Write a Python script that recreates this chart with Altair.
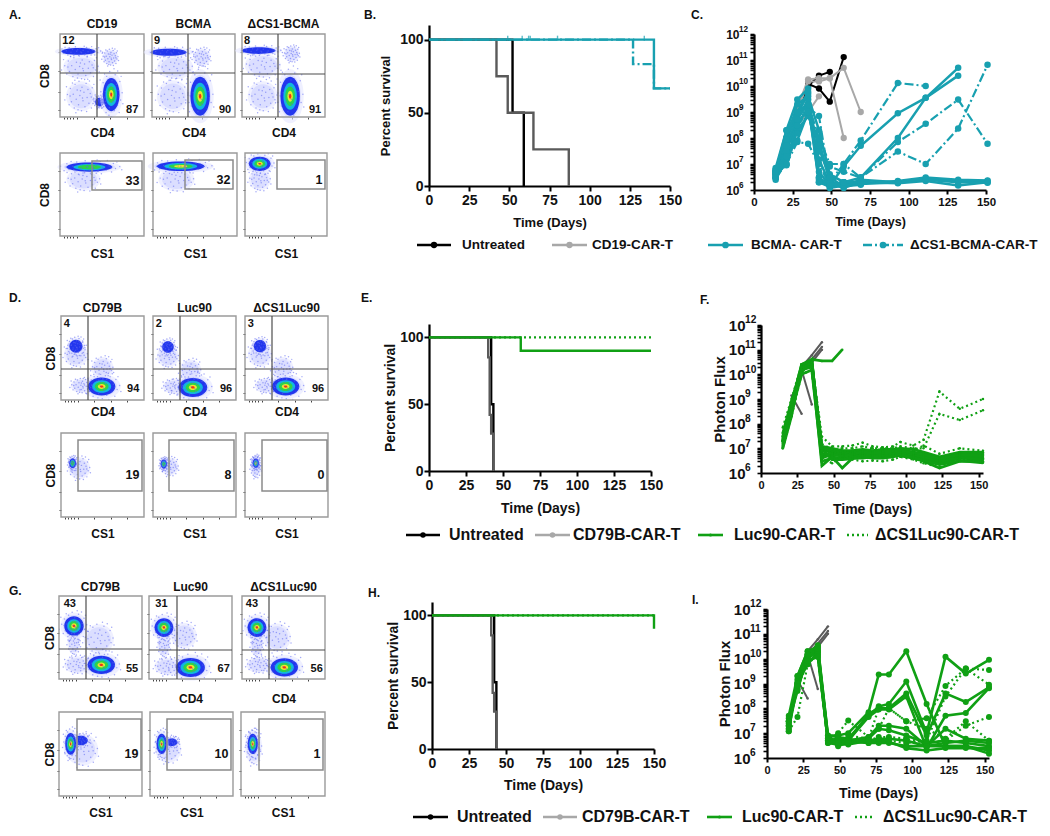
import altair as alt
import pandas as pd

N = None
W, H = 1034, 820
FONT = "Liberation Sans"
TEAL, GREEN, GRAYL, GRAYD = "#18a0b0", "#10a014", "#a8a8a8", "#5a5a5a"
DASHDOT, DOTTED = [9, 3, 2, 3], [2, 3]

# ---------- survival data ----------
B_UNTREATED = ([0, 52, 59], [100, 50, 0])
B_CD19 = ([0, 42, 49, 65, 87], [100, 75, 50, 25, 0])
B_BCMA = ([0, 140, 150], [100, 66.7, 66.7])
B_DCS1 = ([0, 127, 140, 150], [100, 83.3, 66.7, 66.7])
B_CENSOR = [49, 58, 62, 63, 80, 134]
E_UNTREATED = ([0, 42, 43.5], [100, 50, 0])
E_CD79B = ([0, 40, 41, 42, 43.5], [100, 85, 42, 28, 0])
E_LUC = ([0, 62, 150], [100, 90, 90])
E_DCS1 = ([0, 150], [100, 100])
H_UNTREATED = ([0, 42, 43.5], [100, 50, 0])
H_CD79B = ([0, 40, 41, 42, 43.5], [100, 85, 42, 28, 0])
H_LUC = ([0, 150, 150], [100, 100, 90])
H_DCS1 = ([0, 150], [100, 100])

# ---------- flux data ----------
C_T = [14, 21, 28, 35, 42, 49, 58, 69, 93, 111, 132, 151]
C_UNTREATED = [
    [5e6, 1e8, 1e9, 1.2e10, 8e9, 2.5e9, 1.3e11, N, N, N, N, N],
    [4e6, 8e7, 8e8, 1e10, 2.5e10, 3.5e10, N, N, N, N, N, N],
]
C_CD19 = [
    [4e6, 1e8, 1.5e9, 1.8e10, 2e10, 2e10, 5e10, 1e9, N, N, N, N],
    [3e6, 6e7, 1e9, 1.5e10, 1.5e10, 2e10, 1e8, N, N, N, N, N],
    [3e6, 4e7, 3e8, 1e9, 4e9, N, N, N, N, N, N, N],
]
C_BCMA = [
    [5e6, 1e8, 8e8, 5e9, 3e6, 1.5e6, 8e6, 5e7, 9e8, 3.5e9, 5e10, N],
    [3e6, 3e7, 5e8, 3e9, 2e6, 1.5e6, 2e6, 3e6, 1e8, 3.5e9, 2.5e10, N],
    [7e6, 2e8, 3e9, 8e9, 3e6, 1.2e6, 1.5e6, 2.5e6, 2e6, 2.7e6, 2.2e6, 2.2e6],
    [4e6, 8e7, 1e9, 6e9, 2.5e6, 2e6, 1.5e6, 2e6, 1.8e6, 2.2e6, 1.5e6, 2e6],
    [3e6, 5e7, 6e8, 2e9, 2e6, 1.3e6, 1.8e6, 1.8e6, 2.2e6, 3e6, 2.5e6, 2.3e6],
    [2.5e6, 1.5e7, 3e8, 1.5e9, 5e6, 1.5e6, 1.5e6, 1.7e6, 2e6, 2.5e6, 2e6, 1.9e6],
    [3e6, 2e7, 8e7, 1e9, 1.5e7, 1.8e6, 1.2e6, 2e6, N, N, N, N],
    [4e6, 1e7, 2e8, 7e8, 8e7, 2e6, 1.6e6, 2.2e6, N, N, N, N],
    [6e6, 9e7, 2e9, 4e9, 2e8, 4e6, 2e6, 1.8e6, N, N, N, N],
    [5e6, 2e8, 1e9, 2e9, 4e7, 3e6, 1.4e6, 1.6e6, N, N, N, N],
]
C_DCS1 = [
    [5e6, 3e7, 5e8, 1.5e9, 7e8, 2e6, 1e7, 3e6, 3e7, 1e7, 2.3e8, 6.5e10],
    [4e6, 9e6, 1.5e8, 1e9, 3e7, 8e6, 5e6, 3e6, 7e7, 3.5e8, 3e9, 6e7],
    [6e6, 5e7, 3e8, 2e9, 1e8, 1e7, 1e7, 8e7, 1.3e10, 1e10, N, N],
    [3e6, 1e7, 7e7, 6e7, 1e7, 1.5e6, 2e6, 2e6, N, N, N, N],
    [5e6, 2e7, 3e8, 1e9, 5e7, 3e6, 2e6, 2e6, 2e6, N, N, N],
]

F_T = [15, 21, 28, 35, 42, 49, 56, 63, 70, 77, 84, 91, 96, 105, 112, 123, 137, 153]
F_LUC = [
    [1e7, 2e8, 2e10, 3e10, 1.2e7, 1e7, 8e6, 8e6, 9e6, 8e6, 9e6, 9e6, 1e7, 9e6, 7e6, 4.5e6, 7e6, 7e6],
    [2e7, 4e8, 1.5e10, 2e10, 8e6, 7e6, 7e6, 6e6, 7e6, 7e6, 7e6, 7e6, 8e6, 6e6, 5e6, 3.5e6, 5e6, 5.5e6],
    [3e7, 6e8, 2.5e10, 3.5e10, 5e6, 5e6, 5.5e6, 5e6, 6e6, 5.5e6, 6e6, 6e6, 6.5e6, 5e6, 4e6, 3e6, 4.5e6, 4.5e6],
    [1.5e7, 3e8, 1e10, 1.5e10, 3e6, 4e6, 4e6, 4.5e6, 5e6, 5e6, 5e6, 5.5e6, 6e6, 4.5e6, 3.5e6, 2.5e6, 4e6, 4e6],
    [4e7, 8e8, 2e10, 2.5e10, 2e6, 4.5e6, 1.6e6, 4e6, 4e6, 4.5e6, 4.5e6, 5e6, 5e6, 4e6, 3e6, 1.6e6, 3e6, 3e6],
    [2e7, 5e8, 1.2e10, 4e10, 4e6, 6e6, 6e6, 7e6, 8e6, 7e6, 8e6, 8e6, 9e6, 7e6, 6e6, 4e6, 6e6, 6e6],
    [1.2e7, 3e8, 2e10, 2e10, 1e7, 8e6, 7e6, 6.5e6, 6.5e6, 6.5e6, 6.5e6, 6.5e6, 7e6, 5.5e6, 4.5e6, 3.2e6, 4e6, 3.5e6],
    [1.8e7, 7e8, 1.8e10, 2.8e10, 6e6, 5.5e6, 4.8e6, 5.5e6, 7.5e6, 6e6, 7.5e6, 7.5e6, 8e6, 6.5e6, 5.5e6, 3.8e6, 5.5e6, 5e6],
    [2.5e7, 4.5e8, 1.3e10, 3.2e10, 9e6, 3.5e6, 3.5e6, 3.8e6, 4.5e6, 4e6, 4e6, 4.5e6, 5.5e6, 4.2e6, 3.2e6, 2.2e6, 3.2e6, 2.6e6],
    [2e7, 5e8, 2.5e10, 4e10, 3.5e10, 3.5e10, 1e11, N, N, N, N, N, N, N, N, N, N, N],
]
F_DCS1 = [
    [7e7, 1e9, 2.5e10, 3e10, 3e7, 1.2e7, 1.2e7, 1.3e7, 1.7e7, 1.2e7, 1.1e7, 1.2e7, 1.8e7, 1.3e7, 2.2e7, 2e9, 4e8, 1e9],
    [3e7, 5e8, 2e10, 2e10, 1.5e7, 9e6, 1e7, 1e7, 1.2e7, 1e7, 1e7, 1e7, 1.2e7, 1e7, 1e7, 2.5e8, 1.4e8, 3.5e8],
    [1e7, 2e8, 1e10, 1.5e10, 4e6, 2.5e6, 5e6, 3.5e6, 3e6, 3.2e6, 3e6, 3.5e6, 4.5e6, 3.5e6, 2.5e6, 1.7e6, 3.5e6, 2.8e6],
    [2e7, 4e8, 1.5e10, 2.5e10, 8e6, 6e6, 8e6, 6e6, 5e6, 5e6, 5e6, 6e6, 1e7, 8e6, 1.3e7, 6e6, 1e7, 8e6],
]
F_CD79B_T = [21, 28, 35, 42]
F_CD79B = [
    [N, 2e10, 6e10, 2e11],
    [N, 1.5e10, 4e10, 1.3e11],
    [N, 2e10, 3e10, 1e11],
    [1.4e9, 2.5e8, N, N],
    [N, 1.5e10, 6e8, N],
]

I_T = [15, 21, 28, 35, 42, 49, 56, 70, 77, 84, 96, 110, 123, 137, 153]
I_LUC = [
    [1.2e7, 2e9, 2e10, 3e10, 8e6, 8e6, 1e7, 7e7, 2.3e9, 2.3e9, 2e10, 1.5e8, 3e6, 3e6, 2e6],
    [2e7, 1.5e9, 1.5e10, 2e10, 6e6, 5e6, 6e6, 5e7, 1.2e8, 1.5e8, 1.2e9, 1e7, 1.2e10, 2.5e9, 9e9],
    [3e7, 1e9, 1e10, 3e10, 5e6, 6e6, 5e6, 6e7, 1e8, 1e8, 4e8, 8e6, 4e8, 1.8e8, 7e8],
    [5e7, 2e9, 2e10, 1.5e10, 4.5e6, 4e6, 5e6, 4.5e7, 9e7, 9e7, 3e8, 2.5e6, 5e7, 6.5e7, 6.5e8],
    [1.5e7, 8e8, 1e10, 2e10, 7e6, 4e6, 5e6, 7e6, 2e7, 2e7, 1.5e7, 3e6, 1.5e7, 6e6, 5e6],
    [2.5e7, 1.2e9, 8e9, 1.2e10, 5e6, 5e6, 4e6, 6e6, 1.5e7, 1.3e7, 8e6, 4e6, 5e6, 4e6, 3e6],
    [4e7, 6e8, 1.2e10, 2.5e10, 4e6, 3.5e6, 3.5e6, 5e6, 6e6, 6e6, 5e6, 3e6, 3e6, 3e6, 1.5e6],
    [2e7, 1e9, 6e9, 1.8e10, 6e6, 3e6, 4.5e6, 4e6, 5e6, 4.5e6, 2.5e6, 2e6, 2.5e6, 2.5e6, 2.5e6],
    [3e7, 5e8, 1.5e10, 3.5e10, 8e6, 7e6, 6e6, 4e6, 4e6, 4e6, 3e6, 3e6, 4e6, 5e6, 4e6],
]
I_DCS1 = [
    [1.2e7, 4.5e7, 6e9, 1.5e10, 5e6, 1e7, 3.2e7, 7e6, 1.5e7, 1e8, 3e7, 4e7, 8e8, 4e9, 3.5e9],
    [2e7, 6e8, 1e10, 2e10, 6e6, 5e6, 8e6, 6e6, 1e8, 1e8, 3e7, 1.5e7, 6e6, 3e7, 5e6],
    [3e7, 1e9, 1.5e10, 2.5e10, 5e6, 6e6, 5e6, 5e6, 7e6, 7e6, 6e6, 4e6, 5e6, 2e7, 4.5e7],
    [1.5e7, 8e8, 8e9, 1.2e10, 4e6, 4e6, 4e6, 5e6, 6e6, 5e6, 4e6, 5e6, 3e8, 4e9, 9e8],
]
I_CD79B = F_CD79B
LOG_EXPONENTS = [(1e6, "6"), (1e7, "7"), (1e8, "8"), (1e9, "9"), (1e10, "10"), (1e11, "11"), (1e12, "12")]

# ---------- flow-cytometry panels: clouds are (shape, x%, y%, extent, depth) ----------
TITLES_1 = ["CD19", "BCMA", "\u0394CS1-BCMA"]
TITLES_2 = ["CD79B", "Luc90", "\u0394CS1Luc90"]
A_TOP_LABELS = [[("12", 10, 91), ("87", 86, 8)], [("9", 6, 91), ("90", 88, 8)], [("8", 6, 91), ("91", 88, 8)]]
A_BOT_LABELS = [["33"], ["32"], ["1"]]
D_TOP_LABELS = [[("4", 7, 90), ("94", 87, 13)], [("2", 7, 90), ("96", 88, 13)], [("3", 7, 90), ("96", 88, 13)]]
D_BOT_LABELS = [["19"], ["8"], ["0"]]
G_TOP_LABELS = [[("43", 13, 90), ("55", 88, 12)], [("31", 15, 90), ("67", 90, 12)], [("43", 12, 90), ("56", 90, 12)]]
G_BOT_LABELS = [["19"], ["10"], ["1"]]

A_TOP_CLOUDS = [
    [("wide", 25, 60, 36, 0), ("round", 60, 72, 16, 0), ("round", 25, 25, 30, 0), ("bar", 22, 79, 47, 1), ("round", 47, 18, 12, 1), ("tall", 61, 27, 46, 5)],
    [("wide", 28, 60, 36, 0), ("round", 60, 72, 18, 0), ("round", 25, 25, 32, 0), ("bar", 20, 78, 50, 1), ("tall", 58, 25, 54, 5)],
    [("wide", 25, 62, 36, 0), ("round", 60, 76, 16, 0), ("round", 25, 25, 30, 0), ("bar", 20, 80, 47, 1), ("tall", 58, 25, 54, 5)],
]
A_BOT_CLOUDS = [
    [("wide", 28, 68, 34, 0), ("bar", 35, 83, 64, 3)],
    [("wide", 28, 68, 36, 0), ("bar", 33, 84, 66, 4)],
    [("round", 18, 68, 22, 0), ("wide", 18, 87, 30, 5)],
]
D_TOP_CLOUDS = [
    [("round", 18, 54, 24, 0), ("wide", 25, 17, 22, 0), ("round", 50, 38, 22, 0), ("round", 18, 64, 18, 1), ("wide", 49, 16, 38, 5)],
    [("round", 18, 52, 22, 0), ("wide", 25, 16, 22, 0), ("round", 45, 35, 22, 0), ("round", 18, 63, 16, 1), ("wide", 48, 15, 40, 5)],
    [("round", 18, 54, 24, 0), ("wide", 25, 17, 22, 0), ("round", 45, 38, 22, 0), ("round", 18, 64, 17, 1), ("wide", 49, 16, 38, 5)],
]
D_BOT_CLOUDS = [
    [("round", 22, 58, 22, 0), ("oval", 14, 64, 14, 3)],
    [("round", 20, 60, 18, 0), ("oval", 13, 63, 13, 3)],
    [("tall", 13, 60, 22, 0), ("oval", 13, 64, 13, 4)],
]
G_TOP_CLOUDS = [
    [("tall", 18, 45, 26, 0), ("round", 48, 48, 30, 0), ("wide", 22, 17, 26, 0), ("round", 18, 64, 27, 5), ("wide", 51, 17, 38, 5)],
    [("tall", 18, 42, 26, 0), ("round", 42, 52, 26, 0), ("wide", 22, 15, 26, 0), ("round", 18, 62, 26, 5), ("wide", 50, 14, 40, 5)],
    [("tall", 18, 42, 26, 0), ("round", 42, 50, 28, 0), ("wide", 20, 17, 24, 0), ("round", 18, 62, 26, 5), ("wide", 51, 14, 38, 5)],
]
G_BOT_CLOUDS = [
    [("round", 28, 55, 32, 0), ("wide", 26, 66, 20, 1), ("tall", 14, 62, 30, 5)],
    [("round", 22, 55, 26, 0), ("wide", 26, 64, 16, 1), ("tall", 14, 62, 28, 5)],
    [("tall", 15, 58, 34, 0), ("tall", 14, 62, 28, 5)],
]
# hand-placed speckle around each cloud, in units of the cloud's half extent
SPECKLE = [(-0.82, 0.11), (-0.64, 0.47), (-0.58, -0.33), (-0.47, 0.12), (-0.41, -0.71), (-0.36, 0.72), (-0.29, -0.18),
           (-0.23, 0.38), (-0.15, -0.52), (-0.12, 0.91), (-0.07, 0.05), (0.03, -0.88), (0.06, 0.55), (0.12, -0.27),
           (0.18, 0.24), (0.24, -0.63), (0.31, 0.78), (0.37, -0.08), (0.42, 0.41), (0.48, -0.42), (0.56, 0.16),
           (0.63, -0.71), (0.68, 0.52), (0.74, -0.21), (0.86, 0.07), (-0.72, -0.52), (-0.52, 0.81), (0.22, 1.02),
           (0.92, -0.36), (-0.98, -0.22), (-0.31, -1.0), (0.51, 0.93), (0.78, 0.72), (-0.88, 0.58), (0.09, -0.1),
           (-0.18, -0.82), (0.34, -0.93), (-0.66, 0.02), (0.62, -0.05), (-0.03, 0.33)]

# ---------- layout (reference pixels) ----------
RINGS = [("#e4e6ff", 0.6, 1.0), ("#c4c8ff", 0.45, 0.8), ("#2236ee", 1, 0.72), ("#12b6e0", 1, 0.5),
         ("#2cd24c", 1, 0.36), ("#f0e62c", 1, 0.2), ("#f03414", 1, 0.09)]
ASPECT = {"round": (1, 1), "tall": (0.5, 1), "oval": (0.68, 1), "wide": (1, 0.66), "bar": (1, 0.2)}
SHAPES = {k: f"M-{a},0A{a},{b} 0 1,0 {a},0A{a},{b} 0 1,0 -{a},0Z" for k, (a, b) in ASPECT.items()}


def px_x(v):
    return v - 8


def px_y(v):
    return v - 8


def flow_panel(box, quad, gate, xtitle, title, labels, clouds, title_y, xpad, ypad, show_y, gate_font=12.5):
    x0, x1, y0, y1 = box
    sx = alt.Scale(domain=[0, 100], range=[px_x(x0), px_x(x1)])
    sy = alt.Scale(domain=[0, 100], range=[px_y(y1), px_y(y0)])
    axx = alt.Axis(orient="bottom", offset=px_y(y1) - H, values=[5, 8, 12, 16, 20, 40, 60, 80], labels=False,
                   domain=False, grid=False, tickSize=2, tickColor="#444", title=xtitle, titleFont=FONT,
                   titleFontSize=12, titleFontWeight="bold", titlePadding=xpad, titleColor="#111")
    ykw = dict(title="CD8", titleFont=FONT, titleFontSize=12, titleFontWeight="bold", titlePadding=ypad,
               titleColor="#111") if show_y else dict(title=None)
    axy = alt.Axis(orient="left", offset=-px_x(x0), values=[8, 30, 55, 78], labels=False, domain=False, grid=False,
                   tickSize=2, tickColor="#444", **ykw)
    X = alt.X("x:Q", scale=sx, axis=None)
    Y = alt.Y("y:Q", scale=sy, axis=None)
    rows, dust = [], []
    pw, ph = x1 - x0, y1 - y0
    for shape, cx_, cy_, ext, depth in clouds:
        ax, ay = ASPECT[shape]
        for i in range(0, depth + 2 if depth else 2):
            c, o, f = RINGS[i]
            rows.append(dict(x=cx_, y=cy_, k=shape, s=(ext * f) ** 2, c=c, o=o))
        half = ext * 0.55
        for ox, oy in SPECKLE:
            dx = cx_ + ox * ax * half * 100 / pw
            dy = cy_ + oy * ay * half * 100 / ph
            if 0 < dx < 100 and 0 < dy < 100:
                dust.append(dict(x=dx, y=dy))
    cloud = alt.Chart(pd.DataFrame(rows)).mark_point(filled=True, strokeWidth=0).encode(
        x=alt.X("x:Q", scale=sx, axis=axx), y=alt.Y("y:Q", scale=sy, axis=axy),
        shape=alt.Shape("k:N", scale=alt.Scale(domain=list(SHAPES), range=list(SHAPES.values())), legend=None),
        size=alt.Size("s:Q", scale=None), color=alt.Color("c:N", scale=None), opacity=alt.Opacity("o:Q", scale=None))
    specks = alt.Chart(pd.DataFrame(dust)).mark_circle(color="#5a64f0", size=2.2, opacity=0.55).encode(x=X, y=Y)
    frame = alt.Chart(pd.DataFrame([dict(x=0, x2=100, y=0, y2=100)])).mark_rect(
        fillOpacity=0, stroke="#9a9a9a", strokeWidth=1.4).encode(x=X, x2="x2:Q", y=Y, y2="y2:Q")
    parts = [specks, cloud, frame]
    parts[0], parts[1] = parts[1], parts[0]
    if quad:
        qx, qy = quad
        qdf = pd.DataFrame([dict(x=qx, x2=qx, y=0, y2=100), dict(x=0, x2=100, y=qy, y2=qy)])
        parts.append(alt.Chart(qdf).mark_rule(color="#4d4d4d", strokeWidth=1.2).encode(x=X, x2="x2:Q", y=Y, y2="y2:Q"))
    if gate:
        gdf = pd.DataFrame([dict(x=gate[0], x2=gate[1], y=gate[2], y2=gate[3])])
        parts.append(alt.Chart(gdf).mark_rect(fillOpacity=0, stroke="#8a8a8a", strokeWidth=1.5).encode(
            x=X, x2="x2:Q", y=Y, y2="y2:Q"))
        ldf = pd.DataFrame([dict(x=gate[1] - 3, y=gate[2] + 0.32 * (gate[3] - gate[2]), t=labels[0])])
        parts.append(alt.Chart(ldf).mark_text(font=FONT, fontWeight="bold", fontSize=gate_font, align="right",
                                              color="#111").encode(x=X, y=Y, text="t:N"))
    else:
        ldf = pd.DataFrame([dict(t=t, x=a, y=b) for t, a, b in labels])
        parts.append(alt.Chart(ldf).mark_text(font=FONT, fontWeight="bold", fontSize=11, color="#111").encode(
            x=X, y=Y, text="t:N"))
    if title:
        tdf = pd.DataFrame([dict(x=50, y=100 + (y0 - title_y) * 100 / (y1 - y0), t=title)])
        parts.append(alt.Chart(tdf).mark_text(font=FONT, fontWeight="bold", fontSize=12, color="#111").encode(
            x=X, y=Y, text="t:N"))
    return parts


def pct(v, a, b):
    return (v - a) * 100 / (b - a)


def flow_block(tops, bots, titles, top_lab, bot_lab, top_cl, bot_cl, title_y, xpad_top, xpad_bot, ypad):
    out = []
    for i in range(3):
        box, qx, qy = tops[i]
        out += flow_panel(box, (pct(qx, box[0], box[1]), pct(qy, box[3], box[2])), None, "CD4", titles[i],
                          top_lab[i], top_cl[i], title_y, xpad_top, ypad, i == 0)
        box, g = bots[i]
        gate = (pct(g[0], box[0], box[1]), pct(g[1], box[0], box[1]), pct(g[3], box[3], box[2]), pct(g[2], box[3], box[2]))
        out += flow_panel(box, None, gate, "CS1", None, bot_lab[i], bot_cl[i], title_y, xpad_bot, ypad, i == 0)
    return out


def steps(curve, group):
    return pd.DataFrame(dict(t=curve[0], s=curve[1], g=group))


def surv_panel(x0, x1, y0, ytop, curves, censor, tick, tfs, xpad, ypad):
    sx = alt.Scale(domain=[0, 150], range=[px_x(x0), px_x(x1)])
    sy = alt.Scale(domain=[0, 110], range=[px_y(y0), px_y(ytop)])
    axx = alt.Axis(orient="bottom", offset=px_y(y0) - H, values=list(range(0, 151, 25)), grid=False, domainColor="#000",
                   domainWidth=2.2, tickColor="#000", tickWidth=2, tickSize=5, labelFont=FONT, labelFontWeight="bold",
                   labelFontSize=tick, labelColor="#111", labelPadding=2, title="Time (Days)", titleFont=FONT,
                   titleFontSize=tfs, titleFontWeight="bold", titlePadding=xpad, titleColor="#111", labelOverlap=False,
                   labelFlush=False)
    axy = alt.Axis(orient="left", offset=-px_x(x0), values=[0, 50, 100], grid=False, domainColor="#000", domainWidth=2.2,
                   tickColor="#000", tickWidth=2, tickSize=5, labelFont=FONT, labelFontWeight="bold", labelFontSize=tick,
                   labelColor="#111", labelPadding=1, title="Percent survival", titleFont=FONT, titleFontSize=tfs,
                   titleFontWeight="bold", titlePadding=ypad, titleColor="#111", labelOverlap=False)
    parts = []
    for i, (curve, color, dash) in enumerate(curves):
        mk = dict(color=color, strokeWidth=2.4, interpolate="step-after")
        if dash:
            mk["strokeDash"] = dash
        enc = dict(x=alt.X("t:Q", scale=sx, axis=axx if i == 0 else None), y=alt.Y("s:Q", scale=sy, axis=axy if i == 0 else None))
        parts.append(alt.Chart(steps(curve, str(i))).mark_line(**mk).encode(**enc))
    if censor:
        cdf = pd.DataFrame(dict(t=censor, s=[101] * len(censor)))
        parts.append(alt.Chart(cdf).mark_tick(color=TEAL, size=5, thickness=1.4).encode(
            x=alt.X("t:Q", scale=sx, axis=None), y=alt.Y("s:Q", scale=sy, axis=None)))
    return parts


LOG_TICKS = [m * 10 ** e for e in range(6, 12) for m in range(1, 10)] + [10 ** 12]
LOG_LABELS = "abs(log(datum.value)/LN10-round(log(datum.value)/LN10))<0.001 ? '10' : ''"


def rows_of(times, rows):
    out = []
    for i, r in enumerate(rows):
        for t, v in zip(times, r):
            if v is not None:
                out.append(dict(t=t, v=v, id=i))
    return pd.DataFrame(out)


def flux_panel(x0, x1, xmax, y0, y1, groups, tick_x, tick_y, tfs, ytitle, xpad, ypad, lab_pad, exp_dx):
    sx = alt.Scale(domain=[0, xmax], range=[px_x(x0), px_x(x1)])
    sy = alt.Scale(type="log", domain=[1e6, 1e12], range=[px_y(y0), px_y(y1)])
    axx = alt.Axis(orient="bottom", offset=px_y(y0) - H, values=list(range(0, 151, 25)), grid=False, domainColor="#000",
                   domainWidth=2.2, tickColor="#000", tickWidth=2, tickSize=4, labelFont=FONT, labelFontWeight="bold",
                   labelFontSize=tick_x, labelColor="#111", labelPadding=2, title="Time (Days)", titleFont=FONT,
                   titleFontSize=tfs, titleFontWeight="bold", titlePadding=xpad, titleColor="#111", labelOverlap=False,
                   labelFlush=False)
    kw = dict(title=ytitle, titleFont=FONT, titleFontSize=tfs + 1, titleFontWeight="bold", titlePadding=ypad, titleColor="#111") if ytitle else dict(title=None)
    axy = alt.Axis(orient="left", offset=-px_x(x0), values=LOG_TICKS, labelExpr=LOG_LABELS, grid=False, domainColor="#000",
                   domainWidth=2.2, tickColor="#000", tickWidth=1.6, tickSize=4, labelFont=FONT, labelFontWeight="bold",
                   labelFontSize=tick_y, labelColor="#111", labelPadding=lab_pad, labelOverlap=False, labelBound=False,
                   labelFlush=False, **kw)
    parts = []
    first = True
    for times, rows, color, dash, width, dot in groups:
        df = rows_of(times, rows)
        mk = dict(color=color, strokeWidth=width)
        if dash:
            mk["strokeDash"] = dash
        enc = dict(x=alt.X("t:Q", scale=sx, axis=axx if first else None),
                   y=alt.Y("v:Q", scale=sy, axis=axy if first else None), detail="id:N")
        first = False
        parts.append(alt.Chart(df).mark_line(**mk).encode(**enc))
        if dot:
            parts.append(alt.Chart(df).mark_circle(color=color, size=dot, opacity=1).encode(
                x=alt.X("t:Q", scale=sx, axis=None), y=alt.Y("v:Q", scale=sy, axis=None)))
    edf = pd.DataFrame([dict(t=0, v=v, e=e) for v, e in LOG_EXPONENTS])
    parts.append(alt.Chart(edf).mark_text(font=FONT, fontWeight="bold", fontSize=tick_y * 0.68, align="left",
                                          dx=exp_dx, dy=-tick_y * 0.32, color="#111").encode(
        x=alt.X("t:Q", scale=sx, axis=None), y=alt.Y("v:Q", scale=sy, axis=None), text="e:N"))
    return parts


cx = alt.Scale(domain=[8, 8 + W], range=[0, W])
cy = alt.Scale(domain=[8, 8 + H], range=[0, H])


def legend_key(a, b, y, color, dash, dot):
    df = pd.DataFrame([dict(x=a, x2=b, y=y, m=(a + b) / 2)])
    mk = dict(color=color, strokeWidth=2.6)
    if dash:
        mk["strokeDash"] = dash
    parts = [alt.Chart(df).mark_rule(**mk).encode(x=alt.X("x:Q", scale=cx, axis=None), x2="x2:Q", y=alt.Y("y:Q", scale=cy, axis=None))]
    if dot:
        parts.append(alt.Chart(df).mark_circle(color=color, size=dot, opacity=1).encode(
            x=alt.X("m:Q", scale=cx, axis=None), y=alt.Y("y:Q", scale=cy, axis=None)))
    return parts


LEGEND_1 = [("Untreated", 417, 451, 462, "#000", None, 40), ("CD19-CAR-T", 552, 587, 592, GRAYL, None, 40),
            ("BCMA- CAR-T", 708, 743, 751, TEAL, None, 45), ("\u0394CS1-BCMA-CAR-T", 863, 903, 910, TEAL, DASHDOT, 45)]
LEGEND_2 = [("Untreated", 406, 440, 449, "#000", None, 30), ("CD79B-CAR-T", 535, 570, 573, GRAYL, None, 30),
            ("Luc90-CAR-T", 698, 723, 734, GREEN, None, 10), ("\u0394CS1Luc90-CAR-T", 847, 868, 875, GREEN, DOTTED, 0)]
LEGEND_3 = [("Untreated", 413, 448, 457, "#000", None, 30), ("CD79B-CAR-T", 543, 577, 582, GRAYL, None, 30),
            ("Luc90-CAR-T", 707, 732, 742, GREEN, None, 10), ("\u0394CS1Luc90-CAR-T", 855, 875, 883, GREEN, DOTTED, 0)]
LETTERS = [("A.", 9, 15), ("B.", 364, 15), ("C.", 691, 15), ("D.", 9, 298), ("E.", 361, 298), ("F.", 700, 300),
           ("G.", 9, 591), ("H.", 368, 593), ("I.", 692, 600)]


def legend_row(items, y, fs):
    parts = []
    for lab, a, b, tx, c, d, dot in items:
        parts += legend_key(a, b, y, c, d, dot)
        tdf = pd.DataFrame([dict(x=tx, y=y, t=lab)])
        parts.append(alt.Chart(tdf).mark_text(font=FONT, fontWeight="bold", fontSize=fs, align="left", color="#111").encode(
            x=alt.X("x:Q", scale=cx, axis=None), y=alt.Y("y:Q", scale=cy, axis=None), text="t:N"))
    return parts


panels = []
panels += flow_block(
    [((60, 144, 34, 117), 97, 73), ((152, 235, 34, 117), 188, 73), ((242, 325, 34, 117), 278, 74)],
    [((60, 144, 153, 236), (92, 142, 161, 190)), ((153, 237, 153, 236), (185, 233, 160, 189)), ((245, 327, 153, 236), (277, 325, 160, 189))],
    TITLES_1, A_TOP_LABELS, A_BOT_LABELS, A_TOP_CLOUDS, A_BOT_CLOUDS, 24, 8, 10, 6)
panels += flow_block(
    [((61, 144, 316, 400), 88, 369), ((153, 236, 316, 400), 180, 369), ((245, 328, 316, 400), 272, 369)],
    [((61, 144, 433, 517), (78, 142, 440, 491)), ((153, 236, 433, 517), (169, 234, 440, 491)), ((245, 328, 433, 517), (262, 327, 440, 491))],
    TITLES_2, D_TOP_LABELS, D_BOT_LABELS, D_TOP_CLOUDS, D_BOT_CLOUDS, 308, 4, 9, 1)
panels += flow_block(
    [((59, 142, 596, 679), 86, 649), ((149, 232, 596, 679), 177, 650), ((242, 325, 596, 679), 269, 650)],
    [((59, 142, 712, 796), (77, 141, 719, 770)), ((150, 233, 712, 796), (167, 231, 719, 770)), ((241, 325, 712, 796), (259, 323, 719, 770))],
    TITLES_2, G_TOP_LABELS, G_BOT_LABELS, G_TOP_CLOUDS, G_BOT_CLOUDS, 587, 12, 9, 0)

panels += surv_panel(429, 670, 186, 25, [(B_UNTREATED, "#000", None), (B_CD19, GRAYD, None), (B_DCS1, TEAL, DASHDOT), (B_BCMA, TEAL, None)],
                     B_CENSOR, 14, 13, 9, 7)
panels += surv_panel(429, 651, 471, 324, [(E_UNTREATED, "#000", None), (E_CD79B, GRAYD, None), (E_DCS1, GREEN, DOTTED), (E_LUC, GREEN, None)],
                     None, 14, 14, 9, 2)
panels += surv_panel(432, 654, 749, 602, [(H_UNTREATED, "#000", None), (H_CD79B, GRAYD, None), (H_DCS1, GREEN, DOTTED), (H_LUC, GREEN, None)],
                     None, 14, 14, 8, 2)

panels += flux_panel(754, 986, 150, 190, 34, [
    (C_T, C_UNTREATED, "#000", None, 2, 40),
    (C_T, C_CD19, GRAYL, None, 2, 40),
    (C_T, C_BCMA, TEAL, None, 2.5, 42),
    (C_T, C_DCS1, TEAL, DASHDOT, 2.2, 42)], 11.5, 12, 12.5, None, 8, 5, 11, -15)
panels += flux_panel(761, 983, 153, 473, 325, [
    (F_CD79B_T, F_CD79B, GRAYD, None, 2, 6),
    (F_T, F_LUC, GREEN, None, 2.8, 6),
    (F_T, F_DCS1, GREEN, DOTTED, 2.2, 6)], 11, 15, 14, "Photon Flux", 12, 1, 12, -16)
panels += flux_panel(767, 989, 153, 758, 609, [
    (F_CD79B_T, I_CD79B, GRAYD, None, 2, 6),
    (I_T, I_LUC, GREEN, None, 2.6, 36),
    (I_T, I_DCS1, GREEN, DOTTED, 2.2, 36)], 11, 15, 14, "Photon Flux", 11, 1, 13, -17)

panels += legend_row(LEGEND_1, 245, 13.5)
panels += legend_row(LEGEND_2, 535, 16)
panels += legend_row(LEGEND_3, 817, 16)

ldf = pd.DataFrame(LETTERS, columns=["t", "x", "y"])
panels.append(alt.Chart(ldf).mark_text(font=FONT, fontWeight="bold", fontSize=12, align="left", color="#111").encode(
    x=alt.X("x:Q", scale=cx, axis=None), y=alt.Y("y:Q", scale=cy, axis=None), text="t:N"))

chart = alt.layer(*panels).resolve_scale(x="independent", y="independent").resolve_axis(
    x="independent", y="independent").properties(
    width=W, height=H, padding=0, autosize=alt.AutoSizeParams(type="none"), background="white"
).configure_view(stroke=None)

chart.save("out.html", embed_options={"renderer": "svg", "actions": False})
